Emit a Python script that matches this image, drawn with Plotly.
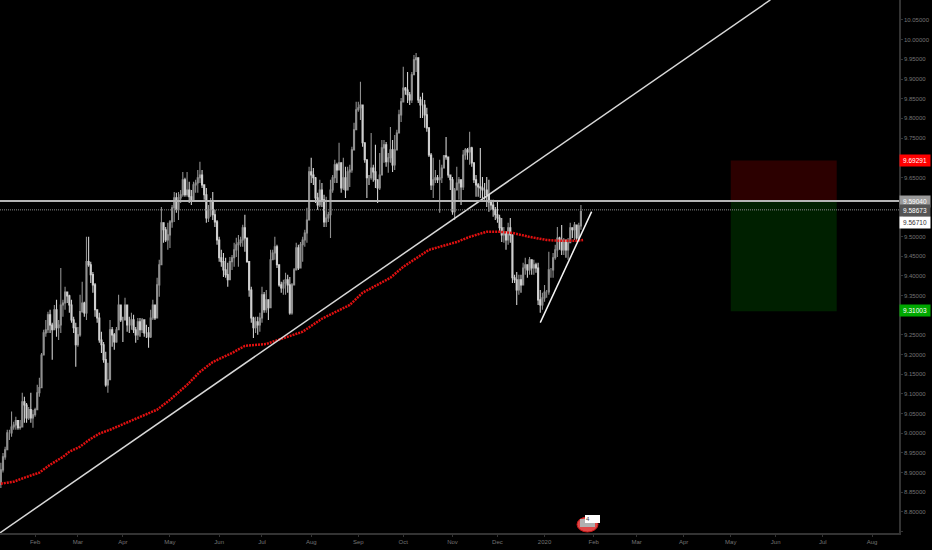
import pandas as pd
import plotly.graph_objects as go

# daily bars, starts 2019-01-10, weekdays only
opens = [
    8.870, 8.907, 8.940, 8.958, 9.001, 9.001, 9.016, 9.021, 9.032, 9.014,
    9.016, 9.080, 9.072, 9.039, 9.060, 9.039, 9.047, 9.060, 9.103, 9.116,
    9.199, 9.255, 9.263, 9.301, 9.275, 9.263, 9.314, 9.268, 9.275, 9.326,
    9.331, 9.359, 9.349, 9.326, 9.288, 9.268, 9.225, 9.250, 9.309, 9.331,
    9.306, 9.436, 9.428, 9.403, 9.377, 9.314, 9.293, 9.237, 9.225, 9.187,
    9.123, 9.136, 9.263, 9.250, 9.232, 9.263, 9.326, 9.288, 9.288, 9.326,
    9.275, 9.275, 9.288, 9.263, 9.250, 9.283, 9.263, 9.288, 9.255, 9.255,
    9.245, 9.293, 9.326, 9.293, 9.377, 9.428, 9.535, 9.517, 9.491, 9.504,
    9.537, 9.573, 9.598, 9.568, 9.598, 9.606, 9.644, 9.606, 9.618, 9.601,
    9.593, 9.631, 9.636, 9.649, 9.656, 9.631, 9.606, 9.547, 9.568, 9.588,
    9.555, 9.537, 9.491, 9.446, 9.436, 9.415, 9.403, 9.390, 9.436, 9.446,
    9.466, 9.479, 9.484, 9.491, 9.522, 9.496, 9.436, 9.364, 9.293, 9.268,
    9.283, 9.275, 9.293, 9.352, 9.314, 9.339, 9.319, 9.441, 9.458, 9.474,
    9.428, 9.377, 9.369, 9.382, 9.390, 9.377, 9.306, 9.377, 9.415, 9.471,
    9.420, 9.479, 9.491, 9.509, 9.542, 9.664, 9.656, 9.649, 9.598, 9.580,
    9.618, 9.593, 9.537, 9.547, 9.555, 9.618, 9.649, 9.682, 9.669, 9.687,
    9.623, 9.649, 9.618, 9.664, 9.669, 9.720, 9.771, 9.822, 9.827, 9.834,
    9.738, 9.695, 9.649, 9.649, 9.674, 9.664, 9.644, 9.623, 9.656, 9.725,
    9.733, 9.690, 9.700, 9.720, 9.682, 9.720, 9.763, 9.809, 9.842, 9.877,
    9.872, 9.860, 9.847, 9.911, 9.949, 9.954, 9.847, 9.834, 9.834, 9.809,
    9.776, 9.707, 9.631, 9.644, 9.649, 9.644, 9.649, 9.674, 9.705, 9.702,
    9.656, 9.644, 9.563, 9.618, 9.636, 9.644, 9.626, 9.707, 9.720, 9.715,
    9.725, 9.687, 9.644, 9.631, 9.626, 9.623, 9.618, 9.618, 9.606, 9.588,
    9.580, 9.568, 9.555, 9.547, 9.522, 9.504, 9.512, 9.491, 9.522, 9.504,
    9.395, 9.390, 9.364, 9.390, 9.377, 9.420, 9.428, 9.415, 9.441, 9.420,
    9.428, 9.420, 9.339, 9.326, 9.344, 9.359, 9.359, 9.415, 9.415, 9.446,
    9.466, 9.496, 9.491, 9.466, 9.491, 9.466, 9.484, 9.522, 9.517, 9.529,
    9.496, 9.527,
]
highs = [
    8.925, 8.950, 8.966, 9.009, 9.009, 9.055, 9.029, 9.042, 9.027, 9.034,
    9.103, 9.093, 9.077, 9.067, 9.103, 9.060, 9.065, 9.123, 9.141, 9.204,
    9.263, 9.288, 9.309, 9.314, 9.281, 9.326, 9.339, 9.288, 9.420, 9.339,
    9.372, 9.359, 9.352, 9.339, 9.296, 9.281, 9.270, 9.352, 9.385, 9.334,
    9.499, 9.499, 9.436, 9.410, 9.382, 9.306, 9.306, 9.258, 9.232, 9.207,
    9.179, 9.288, 9.270, 9.255, 9.270, 9.352, 9.301, 9.296, 9.344, 9.326,
    9.296, 9.306, 9.301, 9.270, 9.293, 9.293, 9.293, 9.281, 9.276, 9.270,
    9.314, 9.339, 9.326, 9.395, 9.441, 9.575, 9.535, 9.524, 9.535, 9.542,
    9.580, 9.613, 9.611, 9.613, 9.618, 9.664, 9.649, 9.664, 9.639, 9.618,
    9.639, 9.644, 9.669, 9.690, 9.669, 9.626, 9.623, 9.580, 9.598, 9.613,
    9.568, 9.542, 9.499, 9.466, 9.458, 9.446, 9.433, 9.448, 9.453, 9.484,
    9.497, 9.504, 9.499, 9.530, 9.555, 9.484, 9.433, 9.372, 9.296, 9.296,
    9.296, 9.306, 9.372, 9.359, 9.364, 9.334, 9.466, 9.466, 9.499, 9.479,
    9.423, 9.385, 9.390, 9.408, 9.403, 9.397, 9.382, 9.420, 9.484, 9.479,
    9.486, 9.499, 9.517, 9.573, 9.677, 9.700, 9.674, 9.651, 9.611, 9.644,
    9.636, 9.606, 9.601, 9.563, 9.644, 9.656, 9.695, 9.687, 9.738, 9.682,
    9.700, 9.677, 9.677, 9.682, 9.728, 9.789, 9.842, 9.842, 9.893, 9.822,
    9.738, 9.690, 9.656, 9.763, 9.682, 9.733, 9.636, 9.712, 9.745, 9.745,
    9.740, 9.712, 9.778, 9.745, 9.758, 9.771, 9.822, 9.852, 9.931, 9.880,
    9.918, 9.867, 9.918, 9.961, 9.966, 9.954, 9.855, 9.865, 9.847, 9.827,
    9.776, 9.712, 9.700, 9.669, 9.656, 9.695, 9.682, 9.707, 9.753, 9.702,
    9.656, 9.651, 9.623, 9.677, 9.651, 9.636, 9.720, 9.725, 9.725, 9.766,
    9.728, 9.687, 9.656, 9.636, 9.725, 9.651, 9.636, 9.651, 9.644, 9.593,
    9.593, 9.575, 9.588, 9.555, 9.547, 9.524, 9.512, 9.535, 9.547, 9.504,
    9.403, 9.410, 9.403, 9.403, 9.433, 9.446, 9.423, 9.448, 9.433, 9.441,
    9.433, 9.433, 9.364, 9.357, 9.377, 9.364, 9.461, 9.420, 9.458, 9.479,
    9.524, 9.499, 9.529, 9.496, 9.486, 9.496, 9.535, 9.522, 9.537, 9.524,
    9.535, 9.580,
]
lows = [
    8.861, 8.900, 8.933, 8.958, 8.983, 8.991, 9.009, 9.009, 9.009, 9.009,
    9.016, 9.027, 9.027, 9.034, 9.027, 9.014, 9.042, 9.060, 9.093, 9.118,
    9.204, 9.245, 9.255, 9.255, 9.187, 9.263, 9.245, 9.237, 9.255, 9.296,
    9.314, 9.331, 9.306, 9.281, 9.255, 9.169, 9.220, 9.245, 9.306, 9.296,
    9.288, 9.423, 9.382, 9.357, 9.296, 9.281, 9.230, 9.204, 9.179, 9.118,
    9.103, 9.143, 9.220, 9.212, 9.230, 9.263, 9.283, 9.232, 9.288, 9.258,
    9.255, 9.263, 9.255, 9.230, 9.237, 9.245, 9.255, 9.245, 9.242, 9.217,
    9.242, 9.288, 9.288, 9.293, 9.347, 9.433, 9.484, 9.486, 9.466, 9.471,
    9.522, 9.537, 9.560, 9.542, 9.585, 9.601, 9.601, 9.601, 9.585, 9.580,
    9.593, 9.611, 9.611, 9.636, 9.623, 9.593, 9.535, 9.537, 9.550, 9.542,
    9.524, 9.479, 9.436, 9.423, 9.397, 9.395, 9.372, 9.395, 9.415, 9.423,
    9.448, 9.423, 9.474, 9.474, 9.461, 9.433, 9.347, 9.281, 9.242, 9.255,
    9.250, 9.258, 9.281, 9.306, 9.306, 9.288, 9.321, 9.441, 9.441, 9.420,
    9.372, 9.357, 9.352, 9.352, 9.357, 9.301, 9.301, 9.382, 9.415, 9.415,
    9.423, 9.436, 9.474, 9.484, 9.560, 9.636, 9.631, 9.585, 9.568, 9.575,
    9.575, 9.524, 9.524, 9.537, 9.496, 9.611, 9.636, 9.636, 9.677, 9.611,
    9.618, 9.598, 9.623, 9.626, 9.662, 9.720, 9.771, 9.817, 9.796, 9.728,
    9.687, 9.598, 9.631, 9.644, 9.639, 9.623, 9.585, 9.618, 9.656, 9.687,
    9.677, 9.662, 9.687, 9.664, 9.669, 9.728, 9.771, 9.791, 9.842, 9.860,
    9.839, 9.834, 9.839, 9.916, 9.918, 9.839, 9.801, 9.801, 9.776, 9.766,
    9.702, 9.618, 9.598, 9.636, 9.636, 9.560, 9.636, 9.700, 9.695, 9.649,
    9.618, 9.555, 9.542, 9.618, 9.593, 9.580, 9.618, 9.695, 9.695, 9.682,
    9.677, 9.636, 9.601, 9.601, 9.598, 9.598, 9.593, 9.575, 9.563, 9.568,
    9.550, 9.542, 9.535, 9.509, 9.486, 9.484, 9.466, 9.479, 9.484, 9.382,
    9.382, 9.326, 9.352, 9.357, 9.377, 9.403, 9.395, 9.403, 9.403, 9.403,
    9.408, 9.326, 9.306, 9.314, 9.334, 9.344, 9.352, 9.395, 9.395, 9.441,
    9.448, 9.466, 9.453, 9.453, 9.446, 9.441, 9.484, 9.496, 9.491, 9.491,
    9.491, 9.517,
]
closes = [
    8.907, 8.940, 8.958, 9.001, 9.001, 9.016, 9.021, 9.032, 9.014, 9.016,
    9.080, 9.072, 9.039, 9.060, 9.039, 9.047, 9.060, 9.103, 9.116, 9.199,
    9.255, 9.263, 9.301, 9.275, 9.263, 9.314, 9.268, 9.275, 9.326, 9.331,
    9.359, 9.349, 9.326, 9.288, 9.268, 9.225, 9.250, 9.309, 9.331, 9.306,
    9.436, 9.428, 9.403, 9.377, 9.314, 9.293, 9.237, 9.225, 9.187, 9.123,
    9.136, 9.263, 9.250, 9.232, 9.263, 9.326, 9.288, 9.288, 9.326, 9.275,
    9.275, 9.288, 9.263, 9.250, 9.283, 9.263, 9.288, 9.255, 9.255, 9.245,
    9.293, 9.326, 9.293, 9.377, 9.428, 9.535, 9.517, 9.491, 9.504, 9.537,
    9.573, 9.598, 9.568, 9.598, 9.606, 9.644, 9.606, 9.618, 9.601, 9.593,
    9.631, 9.636, 9.649, 9.656, 9.631, 9.606, 9.547, 9.568, 9.588, 9.555,
    9.537, 9.491, 9.446, 9.436, 9.415, 9.403, 9.390, 9.436, 9.446, 9.466,
    9.479, 9.484, 9.491, 9.522, 9.496, 9.436, 9.364, 9.293, 9.268, 9.283,
    9.275, 9.293, 9.352, 9.314, 9.339, 9.319, 9.441, 9.458, 9.474, 9.428,
    9.377, 9.369, 9.382, 9.390, 9.377, 9.306, 9.377, 9.415, 9.471, 9.420,
    9.479, 9.491, 9.509, 9.542, 9.664, 9.656, 9.649, 9.598, 9.580, 9.618,
    9.593, 9.537, 9.547, 9.555, 9.618, 9.649, 9.682, 9.669, 9.687, 9.623,
    9.649, 9.618, 9.664, 9.669, 9.720, 9.771, 9.822, 9.827, 9.834, 9.738,
    9.695, 9.649, 9.649, 9.674, 9.664, 9.644, 9.623, 9.656, 9.725, 9.733,
    9.690, 9.700, 9.720, 9.682, 9.720, 9.763, 9.809, 9.842, 9.877, 9.872,
    9.860, 9.847, 9.911, 9.949, 9.954, 9.847, 9.834, 9.834, 9.809, 9.776,
    9.707, 9.631, 9.644, 9.649, 9.644, 9.649, 9.674, 9.705, 9.702, 9.656,
    9.644, 9.563, 9.618, 9.636, 9.644, 9.626, 9.707, 9.720, 9.715, 9.725,
    9.687, 9.644, 9.631, 9.626, 9.623, 9.618, 9.618, 9.606, 9.588, 9.580,
    9.568, 9.555, 9.547, 9.522, 9.504, 9.512, 9.491, 9.522, 9.504, 9.395,
    9.390, 9.364, 9.390, 9.377, 9.420, 9.428, 9.415, 9.441, 9.420, 9.428,
    9.420, 9.339, 9.326, 9.344, 9.359, 9.359, 9.415, 9.415, 9.446, 9.466,
    9.496, 9.491, 9.466, 9.491, 9.466, 9.484, 9.522, 9.517, 9.529, 9.496,
    9.527, 9.563,
]

# moving average, read at these bar numbers
ma_bars = [0, 6, 12, 18, 23, 29, 32, 37, 42, 46, 51, 62, 73, 79, 87, 93, 99, 108, 114, 124,
           134, 141, 150, 163, 169, 182, 188, 195, 200, 213, 219, 227, 233, 239, 247, 255, 261, 269, 272]
ma_vals = [8.872, 8.877, 8.889, 8.900, 8.920, 8.940, 8.953, 8.966, 8.986, 8.999,
           9.009, 9.034, 9.060, 9.085, 9.123, 9.156, 9.181, 9.204, 9.222, 9.227,
           9.245, 9.258, 9.291, 9.326, 9.357, 9.395, 9.423, 9.448, 9.466, 9.486,
           9.499, 9.512, 9.512, 9.509, 9.499, 9.491, 9.489, 9.489, 9.491]

# drawn lines and the position box
trend_x = ["2019-01-09 14:24", "2020-05-27 12:00"]
trend_y = [8.747, 10.101]
wedge_bars = [252, 276]
wedge_y = [9.281, 9.563]
level_entry = 9.5904
level_last = 9.5676
level_stop = 9.69291
level_target = 9.31003
box_x = ["2020-05-01", "2020-07-09 12:00"]

# tag text, colour, text colour, price where the tag sits
tags = [
    ("9.69291", "#ff0000", "#ffffff", 9.693),
    ("9.59040", "#9a9a9a", "#ffffff", 9.590),
    ("9.58673", "#555555", "#ffffff", 9.565),
    ("9.56710", "#ffffff", "#333333", 9.536),
    ("9.31003", "#00a800", "#ffffff", 9.312),
]

# first weekday of each month, the axis has no weekends
tick_dates = ["2019-02-01", "2019-03-01", "2019-04-01", "2019-05-01", "2019-06-03", "2019-07-01",
              "2019-08-01", "2019-09-02", "2019-10-01", "2019-11-01", "2019-12-02", "2020-01-01",
              "2020-02-03", "2020-03-02", "2020-04-01", "2020-05-01", "2020-06-01", "2020-07-01",
              "2020-08-03"]
tick_labels = ["Feb", "Mar", "Apr", "May", "Jun", "Jul", "Aug", "Sep", "Oct", "Nov", "Dec", "2020",
               "Feb", "Mar", "Apr", "May", "Jun", "Jul", "Aug"]
price_ticks = [8.75, 8.80, 8.85, 8.90, 8.95, 9.00, 9.05, 9.10, 9.15, 9.20, 9.25, 9.30, 9.35, 9.40,
               9.45, 9.50, 9.55, 9.60, 9.65, 9.70, 9.75, 9.80, 9.85, 9.90, 9.95, 10.00, 10.05]
# blank where the price tags cover the label
price_labels = ["", "8.80000", "8.85000", "8.90000", "8.95000", "9.00000", "9.05000", "9.10000",
                "9.15000", "9.20000", "9.25000", "", "9.35000", "9.40000", "9.45000", "9.50000",
                "", "", "9.65000", "", "9.75000", "9.80000", "9.85000", "9.90000", "9.95000",
                "10.00000", "10.05000"]

AXIS = "#333333"
TEXT = "#747474"
FONT = "Liberation Sans"
PLOT_W = 899
PLOT_H = 533


def logo_shapes():
    # small badge at the bottom, sizes in page pixels
    def fx(px):
        return px / PLOT_W

    def fy(py):
        return 1 - py / PLOT_H

    common = dict(xref="paper", yref="paper")
    return [
        dict(type="circle", x0=fx(577), x1=fx(598), y0=fy(532), y1=fy(517),
             fillcolor="#e04848", line=dict(color="#c81818", width=1), **common),
        dict(type="rect", x0=fx(580), x1=fx(595), y0=fy(527), y1=fy(519),
             fillcolor="#b0b0b0", line=dict(width=0), **common),
        dict(type="rect", x0=fx(585), x1=fx(600), y0=fy(523), y1=fy(515),
             fillcolor="#ffffff", line=dict(width=0), **common),
    ]


def make_graph():
    days = pd.bdate_range("2019-01-10", periods=300)

    fig = go.Figure()
    fig.add_trace(go.Candlestick(
        x=days[:len(closes)], open=opens, high=highs, low=lows, close=closes,
        increasing=dict(line=dict(color="#8f8f8f", width=1.1), fillcolor="#8f8f8f"),
        decreasing=dict(line=dict(color="#cfcfcf", width=1.1), fillcolor="#ffffff"),
        whiskerwidth=0,
    ))
    fig.add_trace(go.Scatter(
        x=days[ma_bars], y=ma_vals, mode="lines",
        line=dict(color="#e01010", width=2.5, dash="2px 1px"),
    ))
    fig.add_trace(go.Scatter(x=trend_x, y=trend_y, mode="lines", line=dict(color="#d8d8d8", width=1.5)))
    fig.add_trace(go.Scatter(x=days[wedge_bars], y=wedge_y, mode="lines", line=dict(color="#f4f4f4", width=1.5)))

    shapes = [
        dict(type="rect", xref="x", yref="y", x0=box_x[0], x1=box_x[1], y0=level_entry, y1=level_stop,
             fillcolor="#2c0000", line=dict(width=0), layer="below"),
        dict(type="rect", xref="x", yref="y", x0=box_x[0], x1=box_x[1], y0=level_target, y1=level_entry,
             fillcolor="#002000", line=dict(width=0), layer="below"),
        dict(type="line", xref="paper", yref="y", x0=0, x1=1, y0=level_entry, y1=level_entry,
             line=dict(color="#b4b4b4", width=2)),
        dict(type="line", xref="paper", yref="y", x0=0, x1=1, y0=level_last, y1=level_last,
             line=dict(color="#8c8c8c", width=1, dash="1px 1px")),
    ]
    shapes += logo_shapes()

    annotations = [
        dict(xref="paper", yref="y", x=1, y=price, xanchor="left", yanchor="middle", text=text,
             showarrow=False, bgcolor=bg, width=30, height=11, borderpad=0, align="center",
             font=dict(family=FONT, size=6.5, color=fg))
        for text, bg, fg, price in tags
    ]
    annotations.append(dict(xref="paper", yref="paper", x=588 / PLOT_W, y=1 - 519 / PLOT_H,
                            xanchor="center", yanchor="middle", text="4", showarrow=False,
                            font=dict(family=FONT, size=6, color="#444444")))

    fig.update_layout(
        width=932, height=550, margin=dict(l=0, r=33, t=0, b=17),
        paper_bgcolor="#000000", plot_bgcolor="#000000",
        showlegend=False, shapes=shapes, annotations=annotations,
        font=dict(family=FONT, size=6, color=TEXT),
    )
    fig.update_xaxes(
        type="date", range=["2019-01-09 14:24", "2020-08-19 14:24"],
        rangebreaks=[dict(bounds=["sat", "mon"])], rangeslider_visible=False,
        tickmode="array", tickvals=tick_dates, ticktext=tick_labels,
        showgrid=False, zeroline=False, showline=True, linecolor=AXIS, linewidth=1.5,
        ticks="outside", ticklen=2, tickcolor=AXIS, tickfont=dict(family=FONT, size=6, color=TEXT),
    )
    fig.update_yaxes(
        side="right", range=[8.7466, 10.1008],
        tickmode="array", tickvals=price_ticks, ticktext=price_labels,
        showgrid=False, zeroline=False, showline=True, linecolor=AXIS, linewidth=1.5,
        ticks="outside", ticklen=2, tickcolor=AXIS, tickfont=dict(family=FONT, size=6, color=TEXT),
    )

    fig.write_html("out.html", config=dict(displayModeBar=False),
                   post_script="document.body.style.margin='0';document.body.style.background='#000';")


def main():
    make_graph()


if __name__ == "__main__":
    main()
